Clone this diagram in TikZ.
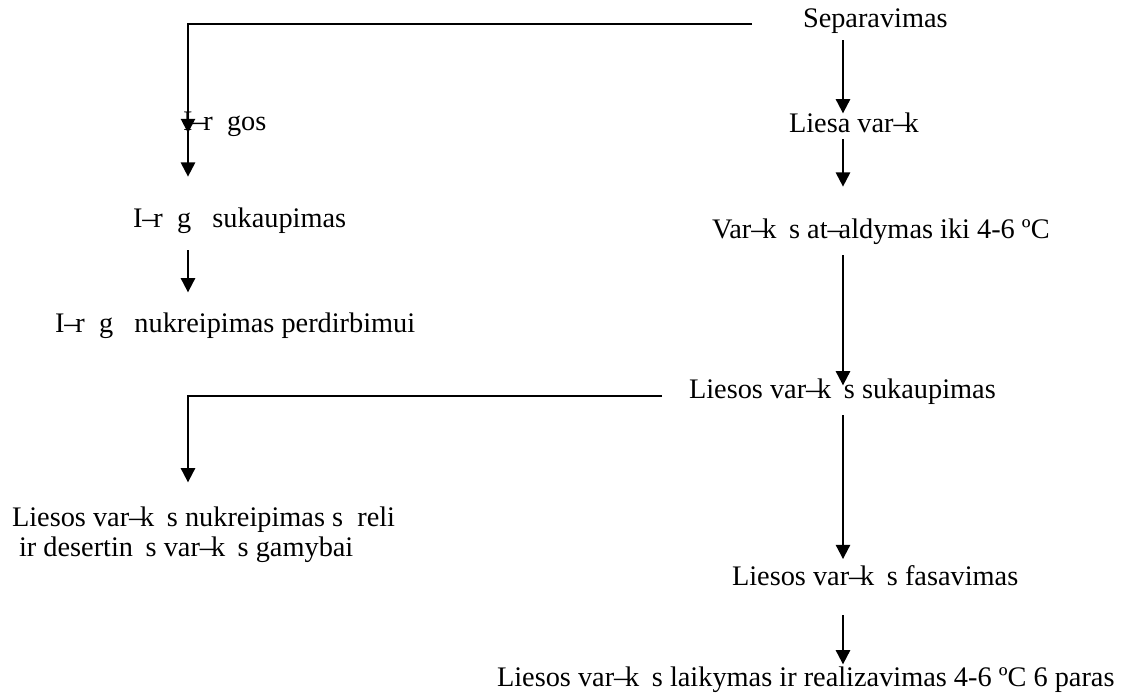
\documentclass[tikz,border=0pt]{standalone}
\usepackage{fontspec}
\setmainfont{Liberation Serif}
\usetikzlibrary{arrows.meta}

% one drawing unit = one pixel of the 1134 x 693 sheet
\newdimen\unitpx \unitpx=0.4237pt

% glyph stand-ins: a dash that runs into the next letter, and blank gaps
\newcommand\shd{\makebox[0.39em][l]{–}}
\newcommand\gapu{\hspace{0.5em}}
\newcommand\gape{\hspace{0.444em}}

\tikzset{
  txt/.style={anchor=base west, inner sep=0pt, outer sep=0pt,
              font=\fontsize{12}{14}\selectfont},
  arr/.style={line width=0.85pt, -{Triangle[width=6pt,length=6pt]}}
}

\begin{document}
\begin{tikzpicture}[x=\unitpx, y=-\unitpx]
\useasboundingbox (0,0) rectangle (1134,693);

% column guides
\coordinate (rc) at (843,0);
\coordinate (lc) at (188,0);

% right-hand chain
\node[txt] (sep)   at (803,28)  {Separavimas};
\node[txt] (liesa) at (789,133) {Liesa var\shd k};
\node[txt] (var)   at (712,238) {Var\shd k\gape s at\shd aldymas iki 4-6 ºC};
\node[txt] (suk)   at (689,398) {Liesos var\shd k\gape s sukaupimas};
\node[txt] (fas)   at (732,585) {Liesos var\shd k\gape s fasavimas};
\node[txt] (laik)  at (497,686) {Liesos var\shd k\gape s laikymas ir realizavimas 4-6 ºC 6 paras};

% left-hand chain
\node[txt] (irg)   at (183,131) {I\shd r\gapu gos};
\node[txt] (irsuk) at (133,228) {I\shd r\gapu g\gapu\ sukaupimas};
\node[txt] (irnuk) at (55,332)  {I\shd r\gapu g\gapu\ nukreipimas perdirbimui};
\node[txt] (nuk1)  at (12,526)  {Liesos var\shd k\gape s nukreipimas s\gapu reli};
\node[txt] (nuk2)  at (12,556)  {\ ir desertin\gape s var\shd k\gape s gamybai};

% branch starts
\coordinate (ts) at (752,24);
\coordinate (br) at (662,396);

% right-hand arrows
\draw[arr, shorten <=6\unitpx] (sep.south -| rc) -- (liesa.north -| rc);
\draw[arr, shorten <=6\unitpx, shorten >=31.7\unitpx] (liesa.south -| rc) -- (var.north -| rc);
\draw[arr, shorten <=11\unitpx, shorten >=-7\unitpx] (var.south -| rc) -- (suk.north -| rc);
\draw[arr, shorten <=11\unitpx, shorten >=6\unitpx] (suk.south -| rc) -- (fas.north -| rc);
\draw[arr, shorten <=30\unitpx, shorten >=2\unitpx] (fas.south -| rc) -- (laik.north -| rc);

% left-hand arrows
\draw[arr, shorten >=-2\unitpx] (ts) -| (lc |- irg.base);
\draw[arr, shorten >=31.7\unitpx] (irg.base -| lc) -- (irsuk.north -| lc);
\draw[arr, shorten <=16\unitpx, shorten >=20\unitpx] (irsuk.south -| lc) -- (irnuk.north -| lc);
\draw[arr, shorten >=24\unitpx] (br) -| (lc |- nuk1.north);
\end{tikzpicture}
\end{document}
